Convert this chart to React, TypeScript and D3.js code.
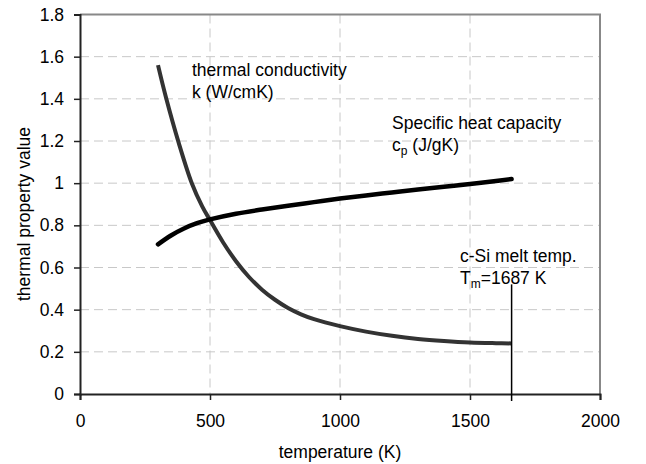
import React, { useRef, useEffect } from "react";
import * as d3 from "d3";

// thermal conductivity k (W/cmK) of c-Si vs temperature (K)
const kTemps = [300, 330, 380, 430, 470, 500, 550, 600, 650, 700, 750, 800, 850, 900, 1000, 1100, 1200, 1300, 1400, 1500, 1600, 1660];
const kValues = [1.56, 1.41, 1.19, 1.0, 0.89, 0.825, 0.72, 0.63, 0.555, 0.495, 0.447, 0.408, 0.378, 0.355, 0.322, 0.296, 0.276, 0.261, 0.251, 0.244, 0.241, 0.24];

// specific heat capacity cp (J/gK)
const cpTemps = [300, 350, 400, 450, 500, 600, 700, 800, 900, 1000, 1100, 1200, 1300, 1400, 1500, 1600, 1660];
const cpValues = [0.71, 0.752, 0.785, 0.81, 0.828, 0.855, 0.875, 0.893, 0.91, 0.927, 0.942, 0.956, 0.97, 0.983, 0.996, 1.01, 1.02];

const xTicks = [0, 500, 1000, 1500, 2000];
const yTicks = [0, 0.2, 0.4, 0.6, 0.8, 1, 1.2, 1.4, 1.6, 1.8];
const meltTemp = 1660; // where the marker line sits in the picture
const meltTop = 0.52;

const FONT = "'Liberation Sans', Arial, sans-serif";
const FS = 17.5;

const App = () => {
  const svgRef = useRef<SVGSVGElement>(null);

  useEffect(() => {
    const width = 646;
    const height = 464;
    const margin = { top: 14.5, right: 46, bottom: 70, left: 80 };

    const svg = d3.select(svgRef.current);
    svg.selectAll("*").remove();

    const x = d3.scaleLinear().domain([0, 2000]).range([margin.left, width - margin.right]);
    const y = d3.scaleLinear().domain([0, 1.8]).range([height - margin.bottom, margin.top]);

    const x0 = x(0), x1 = x(2000), y0 = y(0), y1 = y(1.8);

    // grid
    const grid = svg.append("g").attr("stroke", "#c8c8c8").attr("stroke-width", 1).attr("stroke-dasharray", "9,5");
    grid.selectAll("line.h")
      .data(yTicks.slice(1, -1))
      .join("line")
      .attr("x1", x0).attr("x2", x1)
      .attr("y1", (d) => y(d)).attr("y2", (d) => y(d));
    grid.selectAll("line.v")
      .data(xTicks.slice(1, -1))
      .join("line")
      .attr("x1", (d) => x(d)).attr("x2", (d) => x(d))
      .attr("y1", y1).attr("y2", y0);

    // top/right frame in grey
    svg.append("path")
      .attr("d", `M${x0},${y1}H${x1}V${y0}`)
      .attr("fill", "none")
      .attr("stroke", "#888")
      .attr("stroke-width", 2);

    // axes
    const gx = svg.append("g")
      .attr("transform", `translate(0,${y0})`)
      .call(d3.axisBottom(x).tickValues(xTicks).tickSize(6).tickPadding(15).tickFormat(d3.format("d")));
    const gy = svg.append("g")
      .attr("transform", `translate(${x0},0)`)
      .call(d3.axisLeft(y).tickValues(yTicks).tickSize(6).tickPadding(10).tickFormat((d) => String(+d)));
    [gx, gy].forEach((g) => {
      g.select(".domain").attr("stroke", "#222").attr("stroke-width", 2);
      g.selectAll(".tick line").attr("stroke", "#222").attr("stroke-width", 1.5);
      g.selectAll(".tick text").attr("font-family", FONT).attr("font-size", FS).attr("fill", "#000");
    });

    // axis titles
    svg.append("text")
      .attr("x", (x0 + x1) / 2)
      .attr("y", 458)
      .attr("text-anchor", "middle")
      .attr("font-family", FONT)
      .attr("font-size", FS)
      .text("temperature (K)");
    svg.append("text")
      .attr("transform", "rotate(-90)")
      .attr("x", -214)
      .attr("y", 30)
      .attr("text-anchor", "middle")
      .attr("font-family", FONT)
      .attr("font-size", FS)
      .text("thermal property value");

    // curves
    const line = d3.line<[number, number]>()
      .x((d) => x(d[0]))
      .y((d) => y(d[1]))
      .curve(d3.curveCatmullRom.alpha(0.5));

    svg.append("path")
      .datum(kTemps.map((t, i) => [t, kValues[i]] as [number, number]))
      .attr("d", line)
      .attr("fill", "none")
      .attr("stroke", "#333")
      .attr("stroke-width", 4);

    svg.append("path")
      .datum(cpTemps.map((t, i) => [t, cpValues[i]] as [number, number]))
      .attr("d", line)
      .attr("fill", "none")
      .attr("stroke", "#000")
      .attr("stroke-width", 4.5)
      .attr("stroke-linecap", "round");

    // melt temperature marker
    svg.append("line")
      .attr("x1", x(meltTemp)).attr("x2", x(meltTemp))
      .attr("y1", y(meltTop)).attr("y2", y0 + 7)
      .attr("stroke", "#000")
      .attr("stroke-width", 1.5);

    // annotations
    const note = (xp: number, yp: number) =>
      svg.append("text").attr("x", xp).attr("y", yp).attr("font-family", FONT).attr("font-size", FS).attr("fill", "#000");

    note(192, 76).text("thermal conductivity");
    note(192, 98).text("k (W/cmK)");
    note(392, 129).text("Specific heat capacity");
    const cp = note(392, 151);
    cp.append("tspan").text("c");
    cp.append("tspan").attr("dy", 4).attr("font-size", 12).text("p");
    cp.append("tspan").attr("dy", -4).text(" (J/gK)");
    note(460, 262).text("c-Si melt temp.");
    const tm = note(460, 284);
    tm.append("tspan").text("T");
    tm.append("tspan").attr("dy", 4).attr("font-size", 12).text("m");
    tm.append("tspan").attr("dy", -4).text("=1687 K");
  }, []);

  return (
    <svg
      ref={svgRef}
      width={646}
      height={464}
      style={{ position: "absolute", left: 0, top: 0, background: "#fff" }}
    ></svg>
  );
};

export default App;
